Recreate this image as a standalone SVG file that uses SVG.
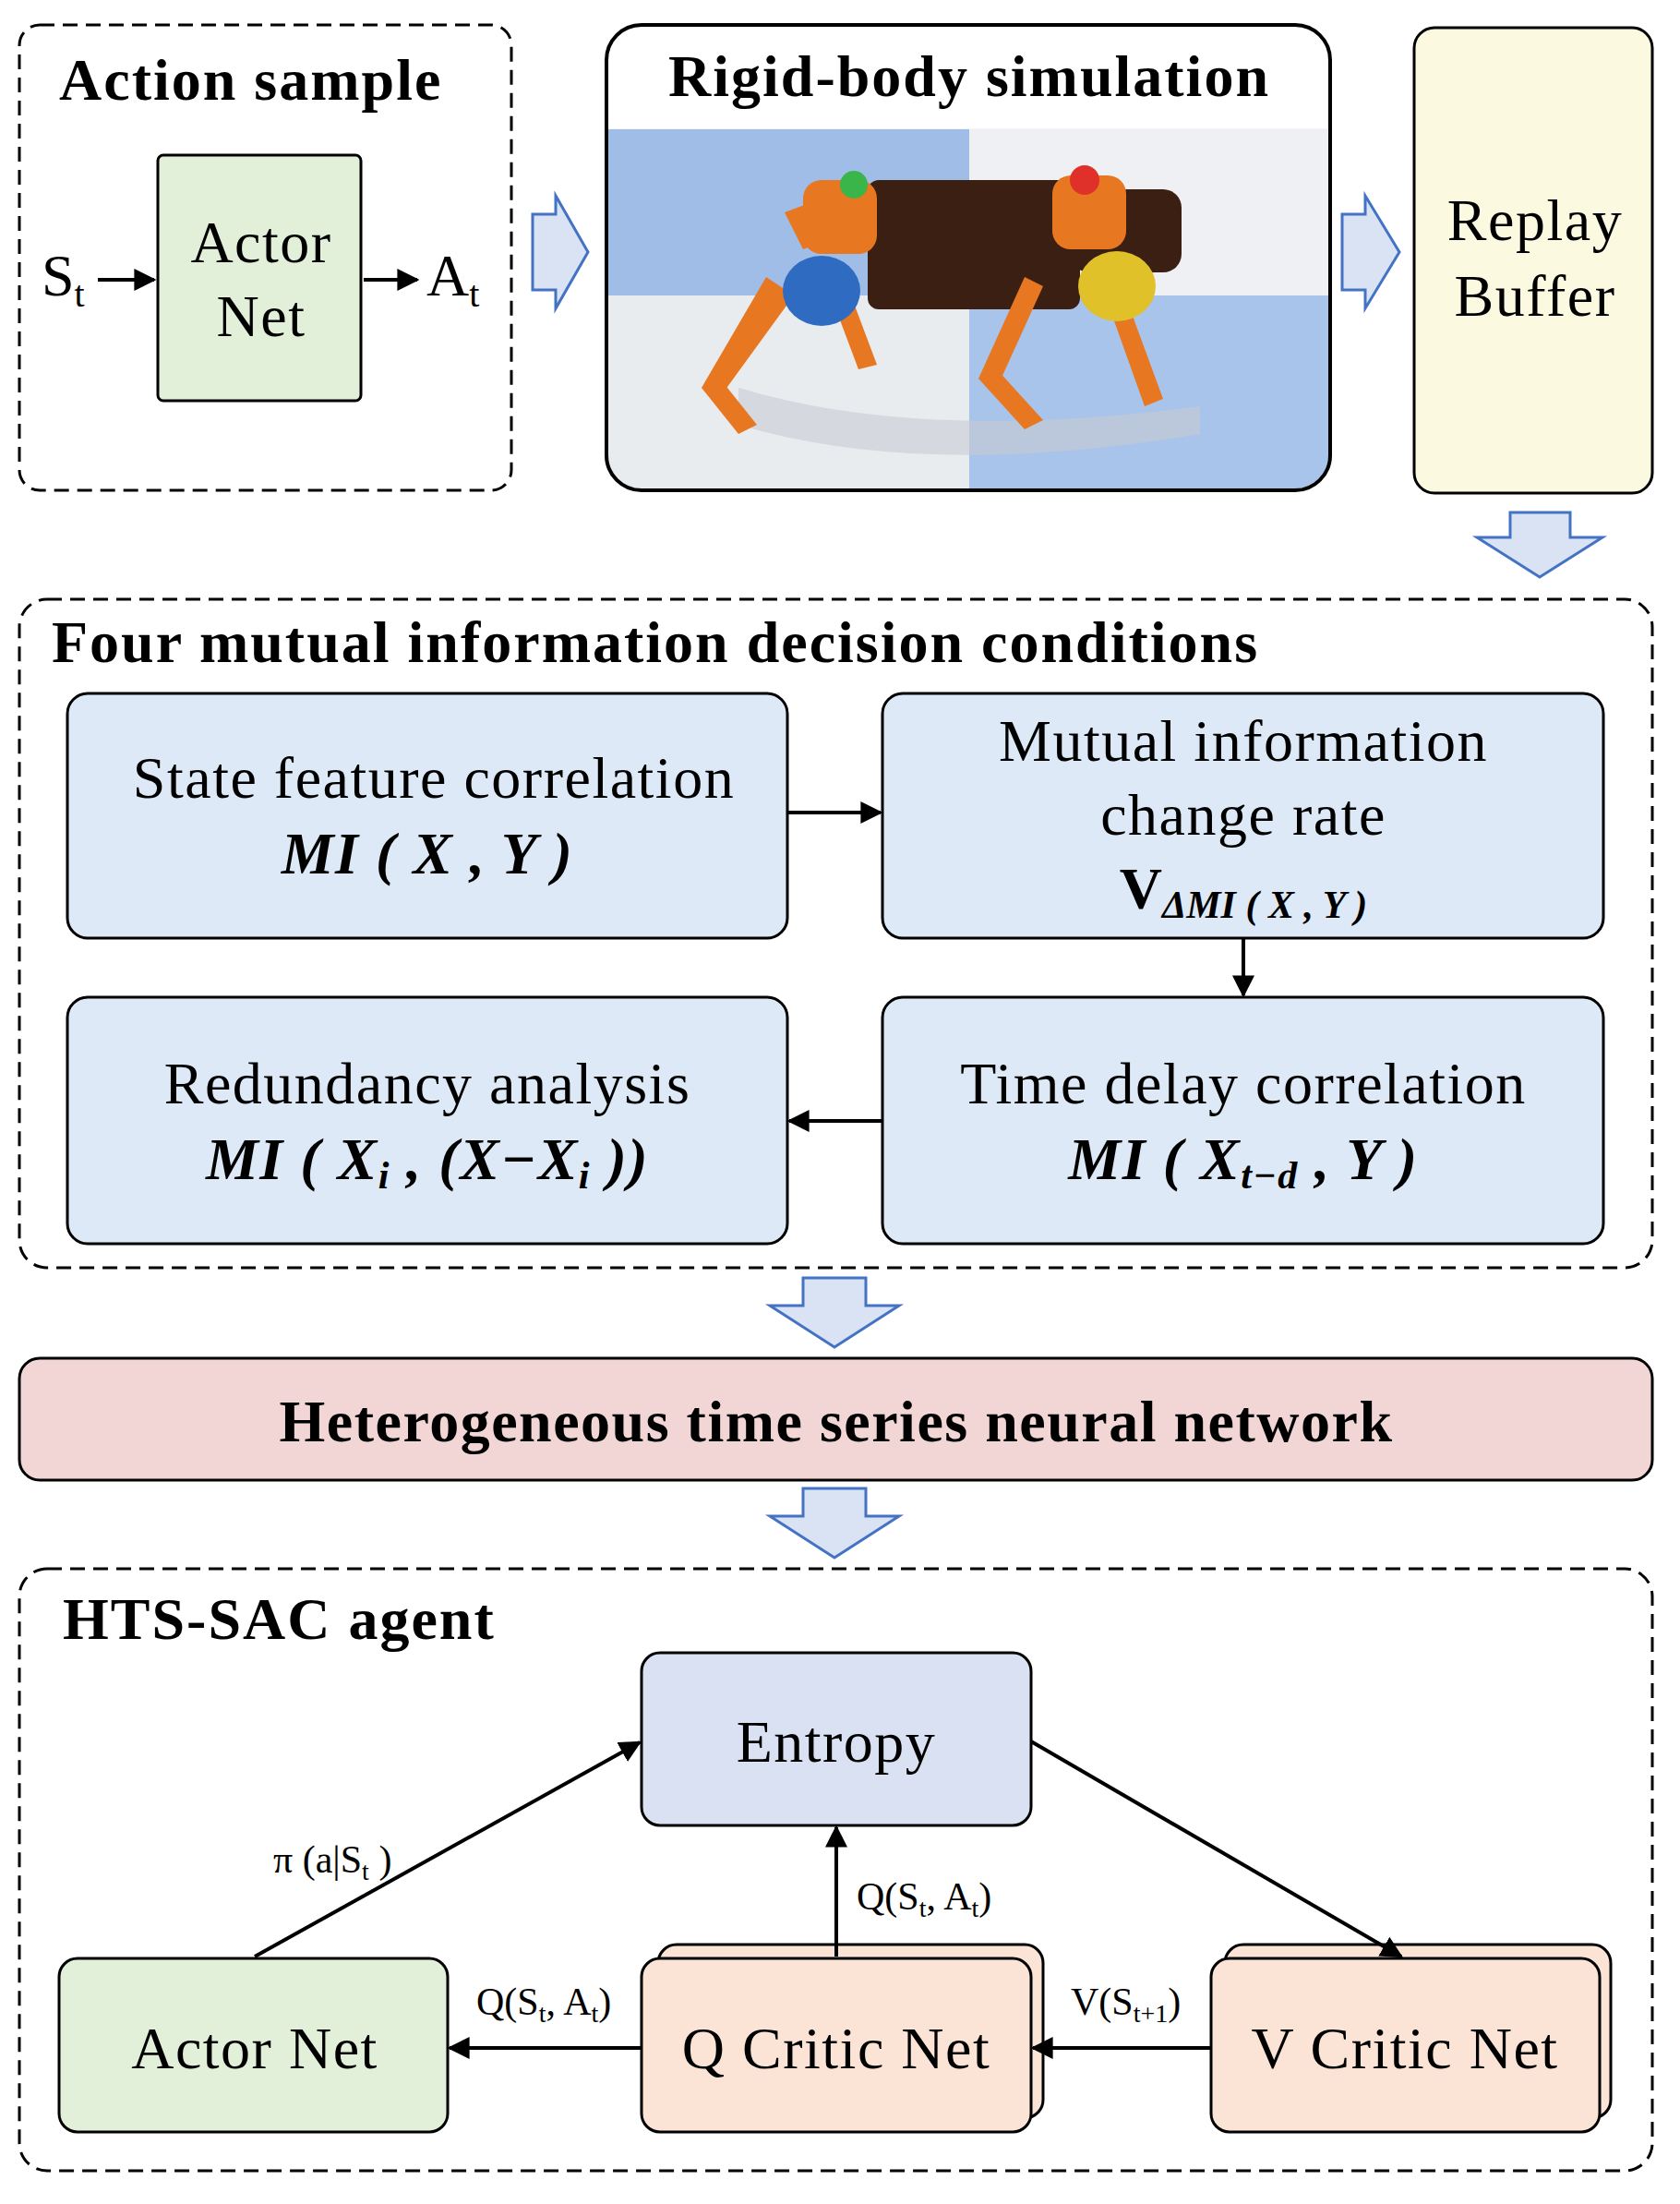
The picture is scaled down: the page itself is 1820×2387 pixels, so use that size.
<svg xmlns="http://www.w3.org/2000/svg" width="1820" height="2387" viewBox="0 0 1820 2387">
<style>
text{font-family:"Liberation Serif","Times New Roman",serif;fill:#000}
.t{font-size:64px;text-anchor:middle;letter-spacing:1.5px}
.b{font-weight:bold}
.h{font-size:64px;font-weight:bold;letter-spacing:2px}
.dash{fill:none;stroke:#000;stroke-width:3;stroke-dasharray:16 9}
.box{stroke:#000;stroke-width:3}
.blk{fill:#dae3f3;stroke:#4472c4;stroke-width:3}
.ln{stroke:#000;stroke-width:4;fill:none;marker-end:url(#ah)}
.s{font-size:42px}
</style>
<defs>
<marker id="ah" viewBox="0 0 10 10" refX="9" refY="5" markerWidth="6" markerHeight="6" orient="auto" markerUnits="strokeWidth"><path d="M0,0L10,5L0,10z" fill="#000"/></marker>
</defs>
<rect width="1820" height="2387" fill="#fff"/>

<g id="action-sample">
<rect class="dash" x="21" y="27" width="533" height="504" rx="22"/>
<text x="64" y="108" class="h">Action sample</text>
<rect class="box" x="171" y="168" width="220" height="266" rx="6" fill="#e2efd9"/>
<text class="t" x="283" y="284">Actor</text>
<text class="t" x="283" y="364">Net</text>
<text x="45" y="320" font-size="64">S<tspan font-size="40" dy="12">t</tspan></text>
<text x="462" y="320" font-size="64">A<tspan font-size="40" dy="12">t</tspan></text>
</g>

<g id="simulation">
<clipPath id="cp"><rect x="659" y="29" width="780" height="500" rx="36"/></clipPath>
<g clip-path="url(#cp)">
<rect x="657" y="27" width="784" height="504" fill="#f4f6f8"/>
<rect x="657" y="140" width="784" height="391" fill="#9fbde6"/>
<rect x="1050" y="140" width="391" height="180" fill="#eef0f3"/>
<rect x="657" y="320" width="393" height="211" fill="#e9ecef"/>
<rect x="1050" y="320" width="391" height="211" fill="#a9c4ea"/>
<path d="M800,420 Q1000,480 1300,440 L1300,470 Q1000,520 800,460z" fill="#c8ccd2" opacity="0.6"/>
<rect x="940" y="195" width="230" height="140" rx="12" fill="#3a1f12"/>
<rect x="1160" y="205" width="120" height="90" rx="20" fill="#3a1f12"/>
<g fill="#e87722">
<path d="M850,230 L930,200 L945,240 L870,270z"/>
<path d="M830,300 L760,420 L780,430 L860,320z"/>
<path d="M760,420 L800,470 L820,460 L780,410z"/>
<path d="M900,320 L930,400 L950,395 L920,315z"/>
<path d="M1110,300 L1060,410 L1080,420 L1130,310z"/>
<path d="M1060,410 L1110,465 L1130,455 L1080,400z"/>
<path d="M1190,300 L1240,440 L1260,432 L1210,296z"/>
<rect x="870" y="195" width="80" height="80" rx="20"/>
<rect x="1140" y="190" width="80" height="80" rx="20"/>
</g>
<ellipse cx="890" cy="315" rx="42" ry="38" fill="#2f6bc0"/>
<ellipse cx="1210" cy="310" rx="42" ry="38" fill="#e1c12a"/>
<circle cx="925" cy="200" r="15" fill="#3ab54a"/>
<circle cx="1175" cy="195" r="16" fill="#e0302a"/>
<rect x="659" y="29" width="780" height="110" fill="#fff"/>
</g>
<rect x="657" y="27" width="784" height="504" rx="38" fill="none" stroke="#000" stroke-width="4"/>
<text x="1050" y="104" class="h" text-anchor="middle">Rigid-body simulation</text>
</g>

<g id="replay-buffer">
<rect class="box" x="1532" y="30" width="258" height="504" rx="22" fill="#fcf9e1"/>
<text class="t" x="1663" y="260">Replay</text>
<text class="t" x="1663" y="342">Buffer</text>
</g>

<g id="four-mi">
<rect class="dash" x="21" y="649" width="1769" height="724" rx="30"/>
<text x="56" y="717" class="h">Four mutual information decision conditions</text>
</g>
<g id="state-feature">
<rect class="box" x="73" y="751" width="780" height="265" rx="22" fill="#dde9f6"/>
<text class="t" x="470" y="864">State feature correlation</text>
<text class="t b" x="463" y="946" font-style="italic">MI ( X , Y )</text>
</g>
<g id="mi-change">
<rect class="box" x="956" y="751" width="781" height="265" rx="22" fill="#dde9f6"/>
<text class="t" x="1347" y="824">Mutual information</text>
<text class="t" x="1347" y="904">change rate</text>
<text x="1347" y="984" class="b" font-size="64" text-anchor="middle">V<tspan font-size="42" dy="10" font-style="italic">ΔMI ( X , Y )</tspan></text>
</g>
<g id="redundancy">
<rect class="box" x="73" y="1080" width="780" height="267" rx="22" fill="#dde9f6"/>
<text class="t" x="463" y="1195">Redundancy analysis</text>
<text class="t b" x="463" y="1277" font-style="italic">MI ( X<tspan font-size="42" dy="10">i</tspan><tspan dy="-10"> , (X−X</tspan><tspan font-size="42" dy="10">i</tspan><tspan dy="-10"> ))</tspan></text>
</g>
<g id="time-delay">
<rect class="box" x="956" y="1080" width="781" height="267" rx="22" fill="#dde9f6"/>
<text class="t" x="1347" y="1195">Time delay correlation</text>
<text class="t b" x="1347" y="1277" font-style="italic">MI ( X<tspan font-size="42" dy="10">t−d</tspan><tspan dy="-10"> , Y )</tspan></text>
</g>

<g id="hts-nn">
<rect class="box" x="21" y="1471" width="1769" height="132" rx="22" fill="#f2d5d5"/>
<text class="t b" x="906" y="1561">Heterogeneous time series neural network</text>
</g>

<g id="hts-sac">
<rect class="dash" x="21" y="1699" width="1769" height="652" rx="30"/>
<text x="68" y="1775" class="h">HTS-SAC agent</text>
</g>
<g id="entropy">
<rect class="box" x="695" y="1790" width="422" height="187" rx="20" fill="#dae1f2"/>
<text class="t" x="906" y="1908">Entropy</text>
</g>
<g id="actor-net">
<rect class="box" x="64" y="2121" width="421" height="188" rx="20" fill="#e2efd9"/>
<text class="t" x="276" y="2240">Actor Net</text>
</g>
<g id="q-critic">
<rect class="box" x="713" y="2106" width="417" height="188" rx="20" fill="#fbe4d5"/>
<rect class="box" x="695" y="2121" width="422" height="188" rx="20" fill="#fbe4d5"/>
<text class="t" x="906" y="2240">Q Critic Net</text>
</g>
<g id="v-critic">
<rect class="box" x="1327" y="2106" width="418" height="188" rx="20" fill="#fbe4d5"/>
<rect class="box" x="1312" y="2121" width="421" height="188" rx="20" fill="#fbe4d5"/>
<text class="t" x="1522" y="2240">V Critic Net</text>
</g>

<g id="connectors">
<line class="ln" x1="106" y1="303" x2="167" y2="303"/>
<line class="ln" x1="394" y1="303" x2="452" y2="303"/>
<path class="blk" d="M577,232 H602 V212 L637,273 L602,334 V314 H577z"/>
<path class="blk" d="M1454,232 H1479 V212 L1516,273 L1479,334 V314 H1454z"/>
<path class="blk" d="M1636,555 H1701 V582 H1736 L1668,625 L1600,582 H1636z"/>
<line class="ln" x1="853" y1="880" x2="954" y2="880"/>
<line class="ln" x1="1347" y1="1016" x2="1347" y2="1078"/>
<line class="ln" x1="956" y1="1214" x2="855" y2="1214"/>
<path class="blk" d="M870,1384 H938 V1414 H974 L904,1459 L834,1414 H870z"/>
<path class="blk" d="M870,1612 H938 V1642 H974 L904,1687 L834,1642 H870z"/>
<line class="ln" x1="276" y1="2119" x2="693" y2="1887"/>
<text x="296" y="2028" class="s">π (a|S<tspan font-size="28" dy="8">t</tspan><tspan dy="-8"> )</tspan></text>
<line class="ln" x1="906" y1="2119" x2="906" y2="1979"/>
<text x="928" y="2068" class="s">Q(S<tspan font-size="28" dy="8">t</tspan><tspan dy="-8">, A</tspan><tspan font-size="28" dy="8">t</tspan><tspan dy="-8">)</tspan></text>
<line class="ln" x1="1117" y1="1886" x2="1518" y2="2119"/>
<line class="ln" x1="1312" y1="2218" x2="1119" y2="2218"/>
<text x="1160" y="2182" class="s">V(S<tspan font-size="28" dy="8">t+1</tspan><tspan dy="-8">)</tspan></text>
<line class="ln" x1="695" y1="2218" x2="487" y2="2218"/>
<text x="516" y="2182" class="s">Q(S<tspan font-size="28" dy="8">t</tspan><tspan dy="-8">, A</tspan><tspan font-size="28" dy="8">t</tspan><tspan dy="-8">)</tspan></text>
</g>
</svg>
